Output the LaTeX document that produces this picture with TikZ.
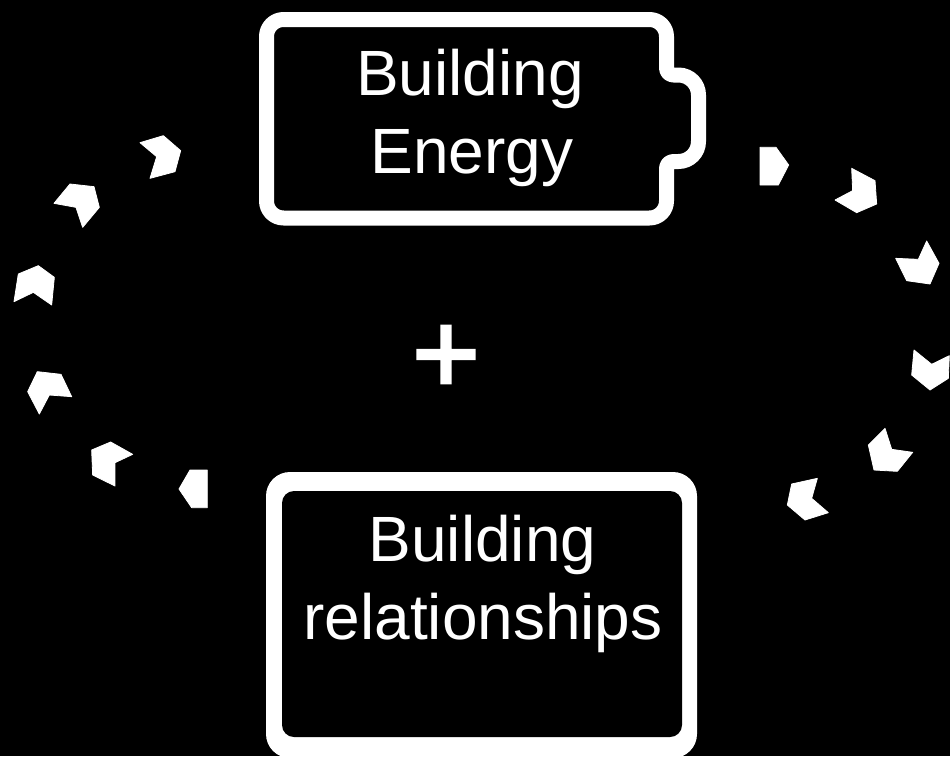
\documentclass[tikz,border=0pt]{standalone}
\usepackage{fontspec}
\setmainfont{Liberation Sans}
\newfontfamily\plusfont[FakeBold=2.5]{Liberation Sans}
\tikzset{
  label text/.style={text=white,inner sep=0pt,anchor=base,font=\fontsize{64}{64}\selectfont},
  plus text/.style={text=white,inner sep=0pt,anchor=base,font=\plusfont\fontsize{116}{116}\selectfont},
  chevron/.style={fill=white,draw=white,line width=0.8pt,line join=round},
  outline/.style={draw=white,line width=15pt,line join=round}
}
\begin{document}
\begin{tikzpicture}[x=1pt,y=-1pt]
\useasboundingbox (0,0) rectangle (950,756);
\fill[black] (0,0) rectangle (950,756);
\clip (0,0) rectangle (950,756);
% battery outline
\draw[outline] (470,19.5) [rounded corners=17pt] -- (666.5,19.5) [rounded corners=7pt] -- (666.5,75) [rounded corners=20pt] -- (698.5,75) -- (698.5,161.5) [rounded corners=7pt] -- (666.5,161.5) [rounded corners=17pt] -- (666.5,218) -- (266.5,218) -- (266.5,19.5) -- cycle;
% lower box as a ring
\fill[white,rounded corners=24pt] (266,472) rectangle (697,758);
\fill[black,rounded corners=12pt] (282,491) rectangle (682,737);
% labels
\node[label text] (b1) at (470,95) {Building};
\node[label text] (e1) at (472,173) {Energy};
\node[plus text] (plus) at (446,393) {+};
\node[label text] (b2) at (482.5,561) {Building};
\node[label text] (r2) at (483,639) {relationships};
% left chevrons
\begin{scope}[shift={(0,120)},x=0.33333pt,y=-0.33333pt]
\path[chevron] (420,68)--(490,47)--(542,92)--(525,155)--(450,175)--(470,110)--cycle;
\path[chevron] (162,250)--(210,192)--(282,200)--(298,262)--(248,322)--(228,262)--cycle;
\path[chevron] (42,545)--(55,462)--(115,437)--(163,472)--(155,555)--(100,517)--cycle;
\path[chevron] (215,830)--(183,763)--(112,755)--(83,815)--(118,882)--(148,825)--cycle;
\path[chevron] (398,1003)--(332,966)--(275,990)--(278,1065)--(345,1098)--(345,1028)--cycle;
\path[chevron] (622,1050)--(570,1050)--(537,1107)--(575,1163)--(622,1163)--cycle;
\end{scope}
% right chevrons
\begin{scope}[shift={(740,130)},x=0.33333pt,y=-0.33333pt]
\path[chevron] (60,52)--(108,52)--(146,105)--(115,165)--(60,165)--cycle;
\path[chevron] (335,115)--(405,152)--(410,222)--(350,248)--(285,210)--(338,182)--cycle;
\path[chevron] (560,333)--(597,400)--(570,462)--(500,452)--(467,385)--(535,388)--cycle;
\path[chevron] (522,660)--(575,703)--(628,677)--(625,745)--(570,780)--(515,735)--cycle;
\path[chevron] (435,895)--(455,958)--(518,967)--(472,1024)--(402,1020)--(385,945)--cycle;
\path[chevron] (232,1045)--(215,1105)--(265,1148)--(195,1170)--(142,1125)--(155,1062)--cycle;
\end{scope}
\end{tikzpicture}
\end{document}
